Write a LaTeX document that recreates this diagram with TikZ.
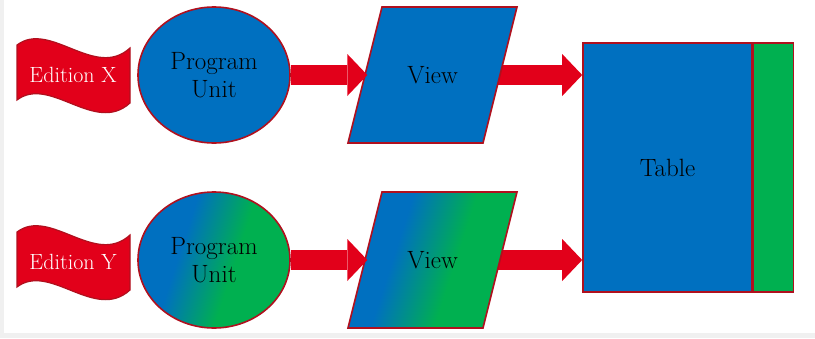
\documentclass[tikz,border=0pt]{standalone}
\usepackage{fontspec}
\usetikzlibrary{arrows.meta,shapes.geometric}
\definecolor{ublue}{HTML}{0070C0}
\definecolor{ugreen}{HTML}{00B050}
\definecolor{ured}{HTML}{E2001A}
\definecolor{uedge}{HTML}{B0101E}
\definecolor{frame}{HTML}{F0F0F0}
% blue-to-green blend used for the second edition
\pgfdeclarehorizontalshading{bluegreen}{100bp}{color(0bp)=(ublue); color(38bp)=(ublue); color(57bp)=(ugreen); color(100bp)=(ugreen)}
\tikzset{
  shapeedge/.style={draw=uedge, line width=1.6pt},
  bigfont/.style={font=\fontsize{25}{28}\selectfont},
  unit/.style={shapeedge, ellipse, minimum width=152pt, minimum height=136pt, inner sep=0pt,
    align=center, bigfont},
  % invisible box carrying the label of a view; its outline is drawn separately
  viewbox/.style={rectangle, minimum width=130pt, minimum height=136pt, inner sep=0pt, bigfont},
  viewshape/.style={shapeedge},
  tablebox/.style={shapeedge, rectangle, fill=ublue, minimum width=169pt, minimum height=249pt,
    inner sep=0pt, bigfont},
  stripbox/.style={shapeedge, rectangle, fill=ugreen, minimum width=40pt, minimum height=249pt, inner sep=0pt},
  flagshape/.style={shapeedge, fill=ured, line width=1.2pt},
  flaglabel/.style={text=white, font=\fontsize{22}{25}\selectfont, inner sep=0pt},
  blend/.style={shading=bluegreen, shading angle=-18},
  bigarrow/.style={ured, line width=20pt, -{Triangle[length=20pt, width=42pt, line width=0pt]}},
}
\begin{document}
\begin{tikzpicture}[x=1pt, y=-1pt]
  \useasboundingbox (0,0) rectangle (815,338);
  % thin light frame along the left and bottom edges
  \fill[frame] (0,0) rectangle (4,338);
  \fill[frame] (0,333) rectangle (815,338);

  % labelled boxes of the views (outlines follow below)
  \node[viewbox] (viewx) at (432.5,75) {};
  \node[viewbox] (viewy) at (432.5,260) {};

  % table with its green side column
  \node[tablebox] (table) at (667.5,167.5) {Table};
  \node[stripbox, anchor=west] (strip) at (table.east) {};

  % arrows leaving the views sit beneath the slanted outlines
  \draw[bigarrow] (viewx) -- (viewx -| table.west);
  \draw[bigarrow] (viewy) -- (viewy -| table.west);

  % edition banners
  \foreach \yy/\lbl/\nm in {75/X/flagx, 262/Y/flagy}{
    \draw[flagshape, shift={(73,\yy)}]
      (-56,-30) .. controls (-23,-55) and (22,5) .. (57,-27)
      -- (57,28) .. controls (22,60) and (-23,0) .. (-56,25) -- cycle;
    \node[flaglabel] (\nm) at (73,\yy) {Edition \lbl};
  }

  % program units
  \node[unit, fill=ublue] (pux) at (214,75) {Program\\Unit};
  \node[unit, blend] (puy) at (214,260) {Program\\Unit};

  % views: slanted outlines and labels
  \draw[viewshape, fill=ublue, shift={(432.5,75)}]
    (-50.5,-68) -- (84.5,-68) -- (50.5,68) -- (-84.5,68) -- cycle;
  \draw[viewshape, blend, shift={(432.5,260)}]
    (-50.5,-68) -- (84.5,-68) -- (50.5,68) -- (-84.5,68) -- cycle;
  \node[bigfont] at (viewx.center) {View};
  \node[bigfont] at (viewy.center) {View};

  % arrows from the program units into the views
  \draw[bigarrow] (pux) -- (viewx);
  \draw[bigarrow] (puy) -- (viewy);
\end{tikzpicture}
\end{document}
